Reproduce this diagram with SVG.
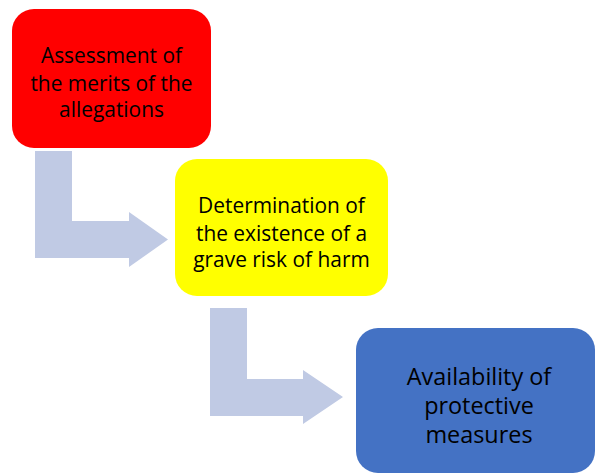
<svg xmlns="http://www.w3.org/2000/svg" width="595" height="474" viewBox="0 0 595 474">
<style>
.lbl{font-family:"Open Sans","Liberation Sans",sans-serif;font-size:20.9px;fill:#000;text-anchor:middle}
.big{font-size:23.4px}
.arrow{fill:#C0CAE4}
</style>
<rect width="595" height="474" fill="#fff"/>
<g id="connectors">
<path class="arrow" d="M35,151 H72 V221 H129 V212 L168,239.5 L129,267 V258 H35 Z"/>
<path class="arrow" d="M210,308 H247 V379 H303 V370 L343,397 L303,424 V416 H210 Z"/>
</g>
<g id="node1">
<rect x="12" y="9" width="199" height="139" rx="22" fill="#FF0000"/>
<text class="lbl" x="111.5" y="63">Assessment of</text>
<text class="lbl" x="111.5" y="90.5">the merits of the</text>
<text class="lbl" x="111.5" y="117">allegations</text>
</g>
<g id="node2">
<rect x="175" y="159" width="213" height="137" rx="22" fill="#FFFF00"/>
<text class="lbl" x="281.5" y="213">Determination of</text>
<text class="lbl" x="281.5" y="240.5">the existence of a</text>
<text class="lbl" x="281.5" y="267">grave risk of harm</text>
</g>
<g id="node3">
<rect x="356" y="328" width="239" height="145" rx="22" fill="#4472C4"/>
<text class="lbl big" x="479" y="385">Availability of</text>
<text class="lbl big" x="479" y="414">protective</text>
<text class="lbl big" x="479" y="443">measures</text>
</g>
</svg>
